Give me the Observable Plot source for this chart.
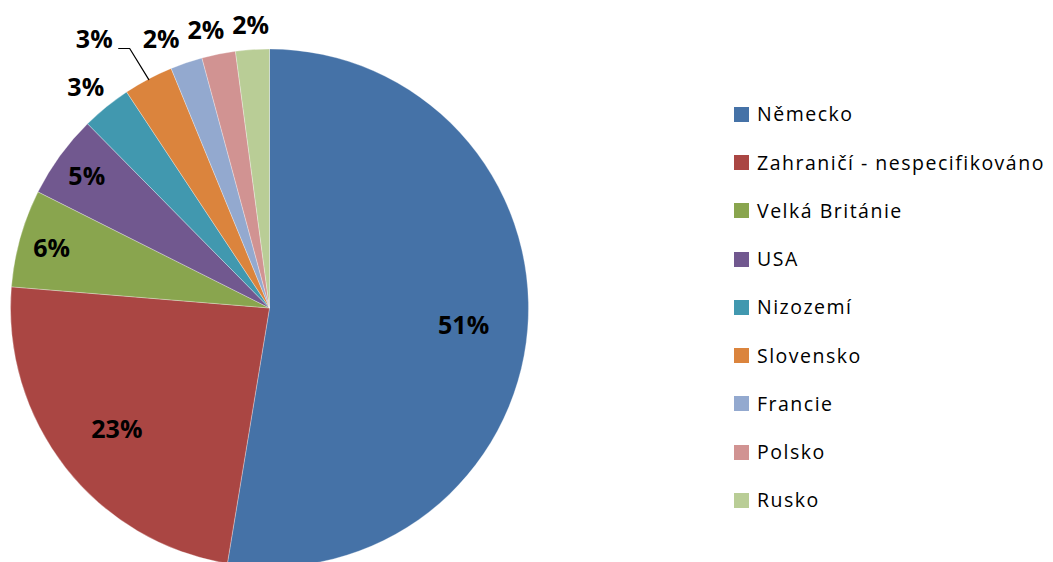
<!DOCTYPE html>
<html><head><meta charset="utf-8">
<script src="https://cdn.jsdelivr.net/npm/d3@7"></script>
<script src="https://cdn.jsdelivr.net/npm/@observablehq/plot@0.6"></script>
<style>
html,body{margin:0;padding:0;background:#fff;overflow:hidden}
#wrap{position:relative;width:1053px;height:562px;overflow:hidden}
#legend{position:absolute;left:734px;top:0;font-family:"Open Sans",sans-serif;font-size:19.5px;letter-spacing:1.5px;color:#000}
.item{position:absolute;left:0;height:24px;line-height:24px;display:flex;align-items:center;white-space:nowrap}
.sw{width:15px;height:15px;margin-right:8px;flex:none}
</style></head><body><div id="wrap"></div>
<script>
// ---- data ----
const countries = ["Německo","Zahraničí - nespecifikováno","Velká Británie","USA","Nizozemí","Slovensko","Francie","Polsko","Rusko"];
const shares = [52.6, 23.7, 6.1, 5.2, 3.1, 3.1, 2.0, 2.1, 2.1];
const labels = ["51%","23%","6%","5%","3%","3%","2%","2%","2%"];
const colors = ["#4572A7","#AA4643","#89A54E","#71588F","#4198AF","#DB843D","#93A9CF","#D19392","#B9CD96"];

// ---- layout ----
const W = 1053, H = 562, CX = 269.5, CY = 308, R = 259;
const LABEL_FONT = "bold 25px 'Open Sans'";
const BOX_H = 19, OUT_GAP = 15, PAD = 8;

const ctx = document.createElement("canvas").getContext("2d");
ctx.font = LABEL_FONT;
const tw = t => ctx.measureText(t).width;

const arcs = d3.pie().sort(null).value(d => d)(shares);

const labelData = [];
const leaders = [];
arcs.forEach((a, i) => {
  if (shares[i] < 4) return;
  const mid = (a.startAngle + a.endAngle) / 2, ux = Math.sin(mid), uy = -Math.cos(mid);
  const w = tw(labels[i]);
  const d = shares[i] >= 15 ? 0.75 * R : R - 12 - (Math.abs(ux) * w / 2 + Math.abs(uy) * BOX_H / 2);
  labelData.push({x: ux * d / R, y: -(uy * d + 2) / R, text: labels[i]});
});
let prev = null;
for (let i = arcs.length - 1; i >= 0; i--) {
  if (shares[i] >= 4) continue;
  const a = arcs[i];
  const mid = (a.startAngle + a.endAngle) / 2, ux = Math.sin(mid), uy = -Math.cos(mid);
  const w = tw(labels[i]);
  let px = ux * (R + OUT_GAP) + ux * w / 2, py = uy * (R + OUT_GAP) + uy * BOX_H / 2;
  if (prev) {
    const ovX = px + w / 2 + PAD > prev.x - prev.w / 2 && px - w / 2 < prev.x + prev.w / 2 + PAD;
    const ovY = Math.abs(py - prev.y) < BOX_H + PAD;
    if (ovX && ovY) {
      if (py - prev.y > 0.7 * BOX_H) {
        py = prev.y; px = prev.x - prev.w / 2 - 30 - w / 2;
        const sx = px + w / 2 + 6, sy = py + BOX_H / 2 - 1;
        leaders.push([[sx, sy], [sx + 11, sy], [ux * R, uy * R]].map(([x, y], k) => ({x: x / R, y: -y / R, id: i, k})));
      } else {
        px = prev.x - prev.w / 2 - PAD - w / 2;
      }
    }
  }
  prev = {x: px, y: py, w};
  labelData.push({x: px / R, y: -py / R, text: labels[i]});
}

function slices(index, scales) {
  const x0 = scales.x(0), y0 = scales.y(0), r = scales.x(1) - scales.x(0);
  const g = d3.create("svg:g").attr("transform", `translate(${x0},${y0})`);
  const arc = d3.arc().innerRadius(0).outerRadius(r);
  g.selectAll("path").data(arcs).join("path")
    .attr("d", arc).attr("fill", d => colors[d.index])
    .attr("stroke", "#fff").attr("stroke-width", 0.5).attr("stroke-opacity", 0.6);
  return g.node();
}

const chart = Plot.plot({
  width: W, height: H, margin: 0,
  style: {background: "transparent", overflow: "visible"},
  x: {domain: [-1, 1], range: [CX - R, CX + R], axis: null},
  y: {domain: [-1, 1], range: [CY + R, CY - R], axis: null},
  marks: [
    slices,
    Plot.line(leaders.flat(), {x: "x", y: "y", z: "id", stroke: "#000", strokeWidth: 1.2}),
    Plot.text(labelData, {x: "x", y: "y", text: "text", fontSize: 25, fontWeight: "bold",
      fontFamily: "'Open Sans'", fill: "#000", textAnchor: "middle", lineAnchor: "middle"})
  ]
});
const wrap = document.getElementById("wrap");
wrap.appendChild(chart);

const legend = document.createElement("div");
legend.id = "legend";
countries.forEach((c, i) => {
  const it = document.createElement("div");
  it.className = "item";
  it.style.top = (115 + 48.25 * i - 12.6) + "px";
  const sw = document.createElement("span");
  sw.className = "sw"; sw.style.background = colors[i];
  const tx = document.createElement("span");
  tx.textContent = c;
  it.appendChild(sw); it.appendChild(tx);
  legend.appendChild(it);
});
wrap.appendChild(legend);
</script>
</body></html>
